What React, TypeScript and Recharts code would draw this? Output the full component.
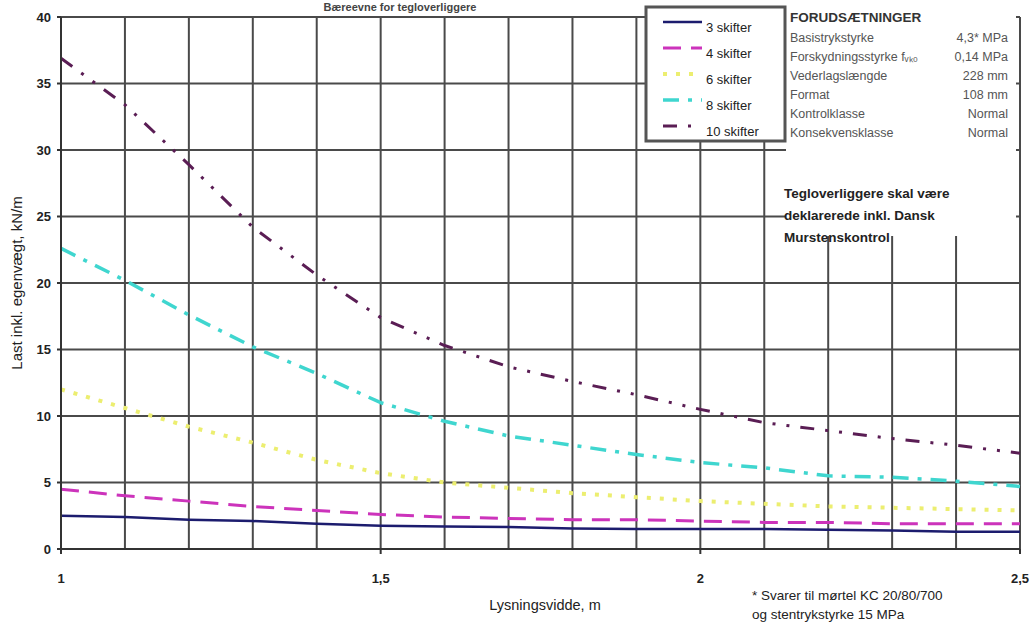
import { LineChart, Line, XAxis, YAxis, ReferenceLine } from "recharts";

// lysningsvidde (m)
const spans = [1, 1.1, 1.2, 1.3, 1.4, 1.5, 1.6, 1.7, 1.8, 1.9, 2, 2.1, 2.2, 2.3, 2.4, 2.5];

// last inkl. egenvægt (kN/m) pr. antal skifter
const skifter3 = [2.5, 2.4, 2.2, 2.1, 1.9, 1.75, 1.7, 1.65, 1.55, 1.5, 1.5, 1.5, 1.45, 1.4, 1.3, 1.3];
const skifter4 = [4.5, 4.0, 3.6, 3.2, 2.9, 2.6, 2.4, 2.3, 2.2, 2.2, 2.1, 2.0, 2.0, 1.9, 1.9, 1.9];
const skifter6 = [12.0, 10.6, 9.2, 8.0, 6.7, 5.7, 5.0, 4.6, 4.2, 3.9, 3.6, 3.4, 3.2, 3.1, 3.0, 2.9];
const skifter8 = [22.6, 20.2, 17.6, 15.2, 13.2, 11.0, 9.6, 8.5, 7.8, 7.1, 6.5, 6.1, 5.5, 5.4, 5.1, 4.7];
const skifter10 = [36.9, 33.4, 28.9, 24.2, 20.6, 17.4, 15.3, 13.7, 12.6, 11.6, 10.5, 9.5, 8.9, 8.3, 7.8, 7.2];

const xTicks = [1, 1.5, 2, 2.5];
const yTicks = [0, 5, 10, 15, 20, 25, 30, 35, 40];
const gridX = [1.1, 1.2, 1.3, 1.4, 1.5, 1.6, 1.7, 1.8, 1.9, 2, 2.1, 2.2, 2.3, 2.4, 2.5];
const gridY = [5, 10, 15, 20, 25, 30, 35, 40];

const seriesNames = ["3 skifter", "4 skifter", "6 skifter", "8 skifter", "10 skifter"];

const forudsaetninger = [
  ["Basistrykstyrke", "4,3* MPa"],
  ["Forskydningsstyrke fᵥₖ₀", "0,14 MPa"],
  ["Vederlagslængde", "228 mm"],
  ["Format", "108 mm"],
  ["Kontrolklasse", "Normal"],
  ["Konsekvensklasse", "Normal"],
];

const styles = [
  { key: "s3", color: "#1c1c6e", width: 2.5, dash: undefined },
  { key: "s4", color: "#cc33bb", width: 3, dash: "18 10" },
  { key: "s6", color: "#ecee70", width: 4, dash: "4 9" },
  { key: "s8", color: "#3fd6cf", width: 3.5, dash: "16 9 4 9" },
  { key: "s10", color: "#5a1d54", width: 3, dash: "14 11 3 11 3 11" },
];

const data = spans.map((x, i) => ({
  x,
  s3: skifter3[i],
  s4: skifter4[i],
  s6: skifter6[i],
  s8: skifter8[i],
  s10: skifter10[i],
}));

const font = "'Liberation Sans', Arial, sans-serif";

const fmt = (v: number) => String(v).replace(".", ",");

export default function App() {
  return (
    <div
      style={{
        position: "absolute",
        left: 0,
        top: 0,
        width: 1033,
        height: 628,
        overflow: "hidden",
        background: "#fff",
        fontFamily: font,
      }}
    >
      <LineChart width={1033} height={628} data={data} margin={{ top: 17, right: 13, bottom: 0, left: 0 }}>
        {gridX.map((g) => (
          <ReferenceLine key={"gx" + g} x={g} stroke="#4a4a4a" strokeWidth={2} />
        ))}
        {gridY.map((g) => (
          <ReferenceLine key={"gy" + g} y={g} stroke="#4a4a4a" strokeWidth={2} />
        ))}
        <XAxis
          dataKey="x"
          type="number"
          domain={[1, 2.5]}
          ticks={xTicks}
          tickFormatter={fmt}
          height={79}
          stroke="#333"
          strokeWidth={2}
          tickSize={5}
          tickMargin={20}
          tick={{ fill: "#222", fontSize: 13, fontFamily: font, fontWeight: 700 }}
        />
        <YAxis
          type="number"
          domain={[0, 40]}
          ticks={yTicks}
          width={61}
          stroke="#333"
          strokeWidth={2}
          tickSize={4}
          tickMargin={6}
          tick={{ fill: "#222", fontSize: 13, fontFamily: font, fontWeight: 700 }}
        />
        {styles.map((s) => (
          <Line
            key={s.key}
            dataKey={s.key}
            type="linear"
            stroke={s.color}
            strokeWidth={s.width}
            strokeDasharray={s.dash}
            dot={false}
            activeDot={false}
            isAnimationActive={false}
          />
        ))}
      </LineChart>

      <svg width={1033} height={628} style={{ position: "absolute", left: 0, top: 0, pointerEvents: "none" }} fontFamily={font}>
        <text x={400} y={11} textAnchor="middle" fontSize={11} fontWeight={700} fill="#444">
          Bæreevne for tegloverliggere
        </text>

        {/* forudsætninger + note area */}
        <rect x={786} y={0} width={230} height={236} fill="#fff" />
        <text x={790} y={22} fontSize={13.5} fontWeight={700} fill="#333">FORUDSÆTNINGER</text>
        {forudsaetninger.map(([label, value], i) => (
          <g key={label}>
            <text x={790} y={42 + i * 19} fontSize={12.5} fill="#555">{label}</text>
            <text x={1008} y={42 + i * 19} fontSize={12.5} fill="#555" textAnchor="end">{value}</text>
          </g>
        ))}
        <text x={784} y={198} fontSize={13.5} fontWeight={700} fill="#222">Tegloverliggere skal være</text>
        <text x={784} y={220} fontSize={13.5} fontWeight={700} fill="#222">deklarerede inkl. Dansk</text>
        <text x={784} y={242} fontSize={13.5} fontWeight={700} fill="#222">Murstenskontrol</text>

        {/* legend */}
        <rect x={646} y={7} width={139} height={134} fill="#fff" stroke="#555" strokeWidth={3} />
        {styles.map((s, i) => (
          <g key={s.key}>
            <line
              x1={663}
              x2={702}
              y1={22 + i * 26}
              y2={22 + i * 26}
              stroke={s.color}
              strokeWidth={s.width}
              strokeDasharray={s.dash}
            />
            <text x={706} y={32 + i * 26} fontSize={13} fill="#222">{seriesNames[i]}</text>
          </g>
        ))}

        <text x={545} y={610} textAnchor="middle" fontSize={14.5} fill="#222">Lysningsvidde, m</text>
        <text
          x={0}
          y={0}
          transform="translate(22,283) rotate(-90)"
          textAnchor="middle"
          fontSize={15}
          fill="#222"
        >
          Last inkl. egenvægt, kN/m
        </text>

        <text x={752} y={600} fontSize={13.5} fill="#222">* Svarer til mørtel KC 20/80/700</text>
        <text x={752} y={619} fontSize={13.5} fill="#222">og stentrykstyrke 15 MPa</text>
      </svg>
    </div>
  );
}
